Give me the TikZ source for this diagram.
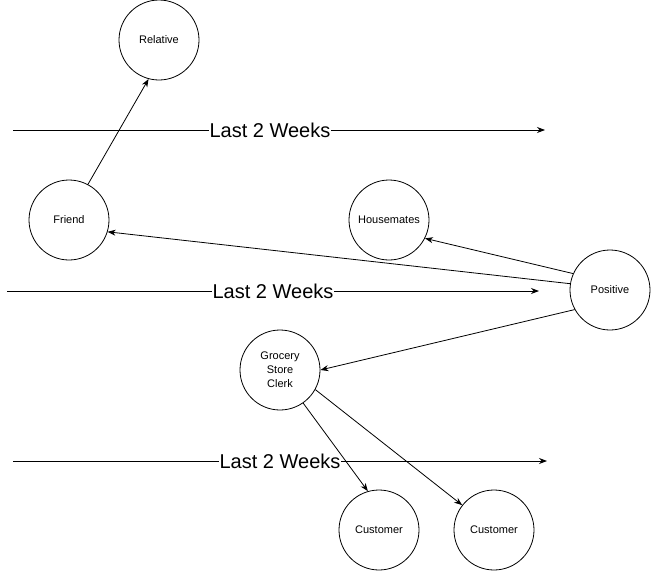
\documentclass[tikz,border=0pt]{standalone}
\usepackage{fontspec}
\setmainfont{Liberation Sans}
\usetikzlibrary{arrows.meta}

\begin{document}
\begin{tikzpicture}[x=1pt, y=-1pt,
		person/.style={draw, circle, minimum size=80pt, inner sep=0pt, line width=0.8pt, align=center, font=\fontsize{11}{14}\selectfont},
		link/.style={-{Stealth[length=8pt,width=6pt]}, line width=0.8pt},
		weeks/.style={fill=white, inner sep=0.5pt, font=\fontsize{20}{24}\selectfont}]
		\useasboundingbox (0,0) rectangle (651,571);
		
		\node[person](REL) at (159,40){Relative};
		\node[person](FRI) at (69,220){Friend};
		\node[person](HOUSE) at (389,220){Housemates};
		\node[person](POS) at (610,290){Positive};
		\node[person](CLERK) at (280,370){Grocery\\Store\\Clerk};
		\node[person](CUST1) at (379,530){Customer};
		\node[person](CUST2) at (494,530){Customer};
		
		\coordinate (T1a) at (13,130);
		\coordinate (T1b) at (545,130);
		\coordinate (T2a) at (7,291);
		\coordinate (T2b) at (539,291);
		\coordinate (T3a) at (13,461);
		\coordinate (T3b) at (547,461);
		
		\draw[link] (T1a) -- node[weeks, pos=0.483]{Last 2 Weeks} (T1b);
		\draw[link] (T2a) -- node[weeks, pos=0.5]{Last 2 Weeks} (T2b);
		\draw[link] (T3a) -- node[weeks, pos=0.5]{Last 2 Weeks} (T3b);
		
		\draw[link] (FRI.62) -- (REL.255);
		\draw[link] (POS.171) -- (FRI.343);
		\draw[link] (POS.156) -- (HOUSE.333);
		\draw[link] (POS.209) -- (CLERK.0);
		\draw[link] (CLERK.305) -- (CUST1.106);
		\draw[link] (CLERK.331) -- (CUST2.142);
\end{tikzpicture}
\end{document}
